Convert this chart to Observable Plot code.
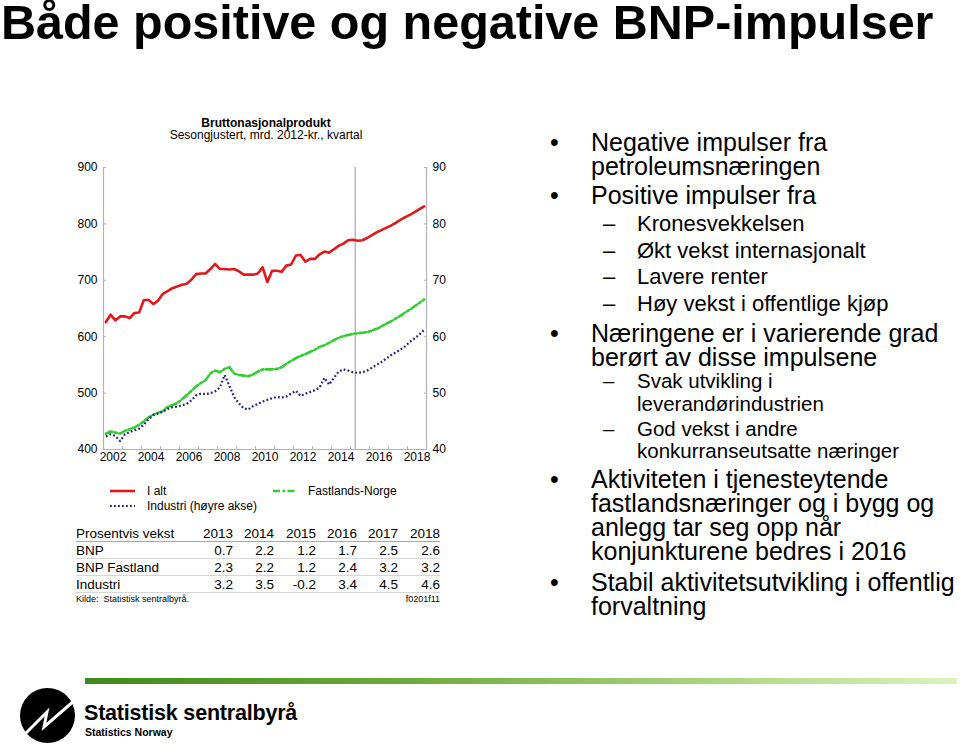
<!DOCTYPE html>
<html><head><meta charset="utf-8">
<script src="https://cdn.jsdelivr.net/npm/d3@7"></script>
<script src="https://cdn.jsdelivr.net/npm/@observablehq/plot@0.6"></script>
<style>
html,body{margin:0;padding:0;background:#fff;}
body{width:960px;height:745px;position:relative;overflow:hidden;font-family:"Liberation Sans",Arial,Helvetica,sans-serif;color:#000;}
.abs{position:absolute;white-space:nowrap;}
.m{font-size:25px;line-height:23px;}
.s1{font-size:22px;line-height:22px;}
.s2{font-size:20.5px;line-height:20px;}
.dot{position:absolute;font-size:25px;line-height:23px;}
#tbl{position:absolute;left:76px;top:525px;border-collapse:collapse;font-size:13.5px;}
#tbl td{padding:2px 0 0 0;line-height:14px;height:14px;border-bottom:1px solid #d6d6d6;white-space:nowrap;}
#tbl tr.h td{border-bottom:1px solid #a8a8a8;}
#tbl td.n{text-align:right;}
</style></head><body>

<div class="abs" style="left:1px;top:0px;font-size:48.5px;line-height:44px;font-weight:bold;">Både positive og negative BNP-impulser</div>

<div class="abs" style="left:66px;top:116.5px;width:400px;text-align:center;font-size:12px;line-height:12px;font-weight:bold;">Bruttonasjonalprodukt</div>
<div class="abs" style="left:66px;top:128.5px;width:400px;text-align:center;font-size:12px;line-height:12px;">Sesongjustert, mrd. 2012-kr., kvartal</div>

<div id="chart" style="position:absolute;left:60px;top:155px;"></div>
<div id="legend"></div>
<table id="tbl"></table>
<div class="abs" style="left:76px;top:593.5px;font-size:9px;line-height:10px;">Kilde:&nbsp; Statistisk sentralbyrå.</div>
<div class="abs" style="left:340px;width:100px;text-align:right;top:593.5px;font-size:9px;line-height:10px;">f0201f11</div>

<!-- right column -->
<div class="dot" style="left:550px;top:130.5px;">•</div>
<div class="abs m" style="left:591px;top:130.5px;">Negative impulser fra</div>
<div class="abs m" style="left:591px;top:154.5px;">petroleumsnæringen</div>
<div class="dot" style="left:550px;top:183.5px;">•</div>
<div class="abs m" style="left:591px;top:183.5px;">Positive impulser fra</div>
<div class="abs s1" style="left:603px;top:213px;">–</div>
<div class="abs s1" style="left:637px;top:213px;">Kronesvekkelsen</div>
<div class="abs s1" style="left:603px;top:240px;">–</div>
<div class="abs s1" style="left:637px;top:240px;">Økt vekst internasjonalt</div>
<div class="abs s1" style="left:603px;top:266px;">–</div>
<div class="abs s1" style="left:637px;top:266px;">Lavere renter</div>
<div class="abs s1" style="left:603px;top:293px;">–</div>
<div class="abs s1" style="left:637px;top:293px;">Høy vekst i offentlige kjøp</div>
<div class="dot" style="left:550px;top:321.5px;">•</div>
<div class="abs m" style="left:591px;top:321.5px;">Næringene er i varierende grad</div>
<div class="abs m" style="left:591px;top:345.5px;">berørt av disse impulsene</div>
<div class="abs s2" style="left:603px;top:371px;">–</div>
<div class="abs s2" style="left:637px;top:371px;">Svak utvikling i</div>
<div class="abs s2" style="left:637px;top:394px;">leverandørindustrien</div>
<div class="abs s2" style="left:603px;top:419px;">–</div>
<div class="abs s2" style="left:637px;top:419px;">God vekst i andre</div>
<div class="abs s2" style="left:637px;top:441px;">konkurranseutsatte næringer</div>
<div class="dot" style="left:550px;top:467.5px;">•</div>
<div class="abs m" style="left:591px;top:467.5px;">Aktiviteten i tjenesteytende</div>
<div class="abs m" style="left:591px;top:491.5px;">fastlandsnæringer og i bygg og</div>
<div class="abs m" style="left:591px;top:515.5px;">anlegg tar seg opp når</div>
<div class="abs m" style="left:591px;top:539.5px;">konjunkturene bedres i 2016</div>
<div class="dot" style="left:550px;top:570.5px;">•</div>
<div class="abs m" style="left:591px;top:570.5px;">Stabil aktivitetsutvikling i offentlig</div>
<div class="abs m" style="left:591px;top:594.5px;">forvaltning</div>

<!-- footer -->
<div style="position:absolute;left:85px;top:678px;width:872px;height:6px;background:linear-gradient(to right,#3f8a1c 0%,#6aa83a 35%,#a9d27a 70%,#dcf3bd 100%);"></div>
<svg style="position:absolute;left:0;top:680px;" width="85" height="65">
  <circle cx="47.5" cy="35.5" r="27.5" fill="#000"/>
  <polyline points="21,58 47,32 44,47 75,20" fill="none" stroke="#fff" stroke-width="3" stroke-linejoin="miter"/>
</svg>
<div class="abs" style="left:84px;top:701px;font-size:21.5px;line-height:24px;font-weight:bold;letter-spacing:-0.2px;">Statistisk sentralbyrå</div>
<div class="abs" style="left:85px;top:726px;font-size:10.5px;line-height:12px;font-weight:bold;">Statistics Norway</div>

<script>
// ---- data ----
const startYear = 2002, endYear = 2019;
const quarters = d3.range(startYear, endYear).flatMap(y => [1, 2, 3, 4].map(q => `${y}K${q}`));
// BNP i alt, mrd. 2012-kr. (venstre akse)
const iAlt = [626, 639, 629, 636, 636, 633, 642, 643, 665, 665, 658, 664, 676, 681, 686, 689,
  692, 694, 701, 711, 712, 712, 720, 729, 720, 720, 719, 720, 716, 710, 710, 710,
  712, 723, 697, 717, 717, 715, 726, 728, 744, 745, 733, 738, 738, 746, 751, 749,
  755, 761, 765, 771, 772, 770, 771, 775, 780, 785, 789, 793, 797, 802, 807, 812,
  816, 821, 826, 831];
// BNP Fastlands-Norge (venstre akse)
const fastlandsNorge = [428, 432, 430, 428, 433, 436, 439, 444, 450, 457, 462, 465, 468, 476, 479, 482,
  489, 496, 504, 512, 518, 523, 535, 540, 537, 543, 546, 535, 532, 531, 530, 533,
  538, 542, 542, 542, 543, 546, 552, 557, 562, 566, 569, 573, 577, 582, 585, 589,
  594, 598, 601, 603, 605, 606, 607, 608, 611, 614, 618, 623, 627, 632, 637, 643,
  648, 654, 660, 666];
// Industri (høyre akse)
const industri = [42.3, 42.7, 42.4, 41.5, 42.7, 43.1, 43.4, 43.7, 44.4, 45.4, 46.1, 46.4, 46.7, 47.2, 47.5, 47.6,
  47.8, 48.1, 48.7, 49.6, 49.9, 49.8, 50.0, 50.3, 51.0, 53.2, 51.3, 49.3, 48.2, 47.3, 47.1, 47.7,
  48.1, 48.5, 48.8, 49.1, 49.3, 49.2, 49.4, 49.9, 50.4, 49.5, 49.9, 50.2, 50.5, 51.0, 52.7, 51.5,
  52.7, 53.8, 54.2, 54.0, 53.7, 53.6, 53.7, 54.0, 54.5, 55.0, 55.5, 56.1, 56.7, 57.2, 57.7, 58.3,
  59.1, 59.7, 60.4, 61.2];
const forecastFrom = "2015K2";
const leftTicks = [400, 500, 600, 700, 800, 900];
const rightTicks = [40, 50, 60, 70, 80, 90];
const rightFactor = 10;
const labelYears = [2002, 2004, 2006, 2008, 2010, 2012, 2014, 2016, 2018];
const yearBoundaries = d3.range(startYear, endYear + 1);

const seriesNames = ["I alt", "Fastlands-Norge", "Industri (høyre akse)"];
const seriesColors = ["#e2171c", "#33cc33", "#1e1e8c"];
const seriesDash = [null, "7,2.5,2.5,2.5", "1.8,2.2"];

const tableHeader = "Prosentvis vekst";
const tableYears = [2013, 2014, 2015, 2016, 2017, 2018];
const tableRowNames = ["BNP", "BNP Fastland", "Industri"];
const bnpVekst = [0.7, 2.2, 1.2, 1.7, 2.5, 2.6];
const bnpFastlandVekst = [2.3, 2.2, 1.2, 2.4, 3.2, 3.2];
const industriVekst = [3.2, 3.5, -0.2, 3.4, 4.5, 4.6];

// ---- chart ----
const qTime = q => { const [y, k] = q.split("K"); return +y + (+k - 1) / 4 + 0.125; };
const qStart = q => { const [y, k] = q.split("K"); return +y + (+k - 1) / 4; };
const axisGray = "#b3b3b3";

const chart = Plot.plot({
  width: 400, height: 315,
  marginLeft: 43, marginRight: 34, marginTop: 12, marginBottom: 21,
  style: {fontFamily: "'Liberation Sans', Arial, sans-serif", fontSize: "12px", color: "#000", background: "transparent", overflow: "visible"},
  x: {domain: [startYear, endYear]},
  y: {domain: [leftTicks[0], leftTicks[leftTicks.length - 1]]},
  marks: [
    Plot.ruleX([startYear, endYear], {stroke: axisGray, strokeWidth: 1.2}),
    Plot.ruleY([leftTicks[0]], {stroke: axisGray, strokeWidth: 1.2}),
    Plot.ruleX([qStart(forecastFrom)], {stroke: "#bdbdbd", strokeWidth: 1.6}),
    Plot.axisX({ticks: yearBoundaries, tickSize: -3, text: null, stroke: axisGray}),
    Plot.axisX({ticks: labelYears.map(y => y + 0.5), tickSize: 0, tickPadding: 3, tickFormat: d => String(Math.floor(d)), label: null}),
    Plot.axisY({anchor: "left", ticks: leftTicks, tickSize: -3, tickPadding: 9, stroke: axisGray, label: null}),
    Plot.axisY({anchor: "right", ticks: rightTicks.map(v => v * rightFactor), tickSize: -3, tickPadding: 9, tickFormat: d => String(d / rightFactor), stroke: axisGray, label: null}),
    Plot.lineY(fastlandsNorge, {x: (d, i) => qTime(quarters[i]), y: d => d, stroke: seriesColors[1], strokeWidth: 2.6, strokeDasharray: seriesDash[1]}),
    Plot.lineY(industri, {x: (d, i) => qTime(quarters[i]), y: d => d * rightFactor, stroke: seriesColors[2], strokeWidth: 2.2, strokeDasharray: seriesDash[2], strokeLinecap: "butt"}),
    Plot.lineY(iAlt, {x: (d, i) => qTime(quarters[i]), y: d => d, stroke: seriesColors[0], strokeWidth: 2.6})
  ]
});
document.getElementById("chart").appendChild(chart);

// ---- legend ----
const legendSpots = [{l: 110, t: 484}, {l: 273, t: 484}, {l: 110, t: 499}];
const legend = document.getElementById("legend");
seriesNames.forEach((name, i) => {
  const p = legendSpots[i];
  const textLeft = i === 1 ? p.l + 35 : p.l + 37;
  legend.insertAdjacentHTML("beforeend",
    `<svg style="position:absolute;left:${p.l}px;top:${p.t}px" width="26" height="14"><line x1="0" x2="${i === 1 ? 22 : 25}" y1="7" y2="7" stroke="${seriesColors[i]}" stroke-width="${i === 2 ? 2 : 2.6}" ${seriesDash[i] ? `stroke-dasharray="${seriesDash[i]}"` : ""}/></svg>` +
    `<div class="abs" style="left:${textLeft}px;top:${p.t}px;font-size:12px;line-height:14px;">${name}</div>`);
});

// ---- table ----
const colW = [116, 41, 41, 42, 41, 41, 42];
const tbl = document.getElementById("tbl");
const fmt = v => v.toFixed(1);
let html = `<tr class="h"><td style="width:${colW[0]}px">${tableHeader}</td>` +
  tableYears.map((y, j) => `<td class="n" style="width:${colW[j + 1]}px">${y}</td>`).join("") + "</tr>";
[bnpVekst, bnpFastlandVekst, industriVekst].forEach((row, r) => {
  html += `<tr><td>${tableRowNames[r]}</td>` + row.map(v => `<td class="n">${fmt(v)}</td>`).join("") + "</tr>";
});
tbl.innerHTML = html;
</script>
</body></html>
